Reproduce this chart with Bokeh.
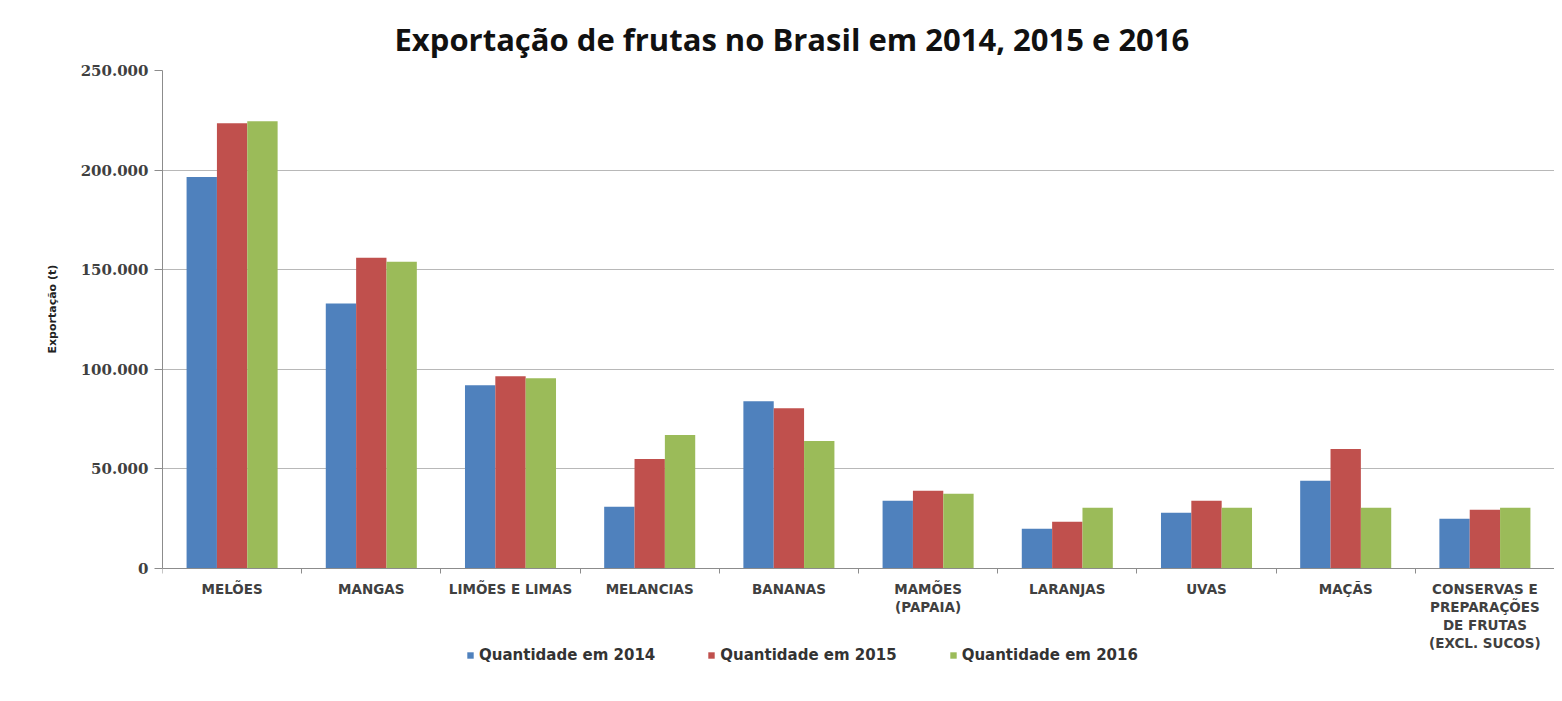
from bokeh.plotting import figure
from bokeh.models import (ColumnDataSource, Range1d, FixedTicker, Legend, LegendItem, Title)
from bokeh.transform import dodge
from bokeh.embed import file_html
from bokeh.resources import INLINE

categories = ["MELÕES", "MANGAS", "LIMÕES E LIMAS", "MELANCIAS", "BANANAS",
              "MAMÕES\n(PAPAIA)", "LARANJAS", "UVAS", "MAÇÃS",
              "CONSERVAS E\nPREPARAÇÕES\nDE FRUTAS\n(EXCL. SUCOS)"]
q2014 = [196500, 133000, 92000, 31000, 84000, 34000, 20000, 28000, 44000, 25000]
q2015 = [223500, 156000, 96500, 55000, 80500, 39000, 23500, 34000, 60000, 29500]
q2016 = [224500, 154000, 95500, 67000, 64000, 37500, 30500, 30500, 30500, 30500]
series_names = ["Quantidade em 2014", "Quantidade em 2015", "Quantidade em 2016"]
colors = ["#4F81BD", "#C0504D", "#9BBB59"]
y_ticks = [0, 50000, 100000, 150000, 200000, 250000]
y_max = 250000
y_min = -61245  # extra room under the axis for the category labels and legend

xs = [i + 0.5 for i in range(len(categories))]
src = ColumnDataSource(dict(x=xs, q2014=q2014, q2015=q2015, q2016=q2016))

p = figure(frame_width=1392, frame_height=620, output_backend="svg", toolbar_location=None,
           x_range=Range1d(0, len(categories)), y_range=Range1d(y_min, y_max),
           min_border_left=162, min_border_right=0, min_border_top=70, min_border_bottom=0)
p.outline_line_color = None
p.background_fill_color = "white"

bw = 0.218
renderers = []
for k, (col, c) in enumerate(zip(["q2014", "q2015", "q2016"], colors)):
    r = p.vbar(x=dodge("x", (k - 1) * bw, range=p.x_range), top=col, width=bw,
               source=src, fill_color=c, line_color=None)
    renderers.append(r)

# title
t = Title(text="Exportação de frutas no Brasil em 2014, 2015 e 2016", align="left",
          offset=232, text_font="Open Sans", text_font_size="31px",
          text_font_style="bold", text_color="#111111", standoff=22)
p.title = t

# y axis
p.yaxis.ticker = FixedTicker(ticks=y_ticks)
p.yaxis.bounds = (0, y_max)
p.yaxis.major_label_overrides = {v: (f"{v:,}".replace(",", ".")) for v in y_ticks}
p.yaxis.minor_tick_line_color = None
p.yaxis.major_tick_out = 8
p.yaxis.major_tick_in = 0
p.yaxis.axis_line_color = "#8c8c8c"
p.yaxis.major_tick_line_color = "#8c8c8c"
p.yaxis.major_label_text_font = "DejaVu Serif"
p.yaxis.major_label_text_font_size = "15px"
p.yaxis.major_label_text_font_style = "bold"
p.yaxis.major_label_text_color = "#404040"
p.yaxis.major_label_standoff = 6

# y axis title, placed level with the 0..250.000 part of the axis
ytitle = Title(text="Exportação (t)", align="left", offset=337,
               text_font="DejaVu Sans", text_font_size="11px", text_font_style="bold",
               text_color="#222222", standoff=37)
p.add_layout(ytitle, "left")

# x axis (drawn at y = 0 inside the frame)
p.xaxis.fixed_location = 0
p.xaxis.ticker = FixedTicker(ticks=xs, minor_ticks=list(range(len(categories) + 1)))
p.xaxis.major_label_overrides = {x: c for x, c in zip(xs, categories)}
p.xaxis.major_tick_out = 0
p.xaxis.major_tick_in = 0
p.xaxis.minor_tick_out = 5
p.xaxis.minor_tick_in = 0
p.xaxis.minor_tick_line_color = "#8c8c8c"
p.xaxis.axis_line_color = "#8c8c8c"
p.xaxis.major_label_text_font = "DejaVu Sans"
p.xaxis.major_label_text_font_size = "13.5px"
p.xaxis.major_label_text_font_style = "bold"
p.xaxis.major_label_text_color = "#404040"
p.xaxis.major_label_standoff = 8
p.xaxis.major_label_text_line_height = 1.12

p.xgrid.grid_line_color = None
p.ygrid.ticker = FixedTicker(ticks=y_ticks)
p.ygrid.grid_line_color = "#b8b8b8"
p.ygrid.grid_line_width = 1

legend = Legend(items=[LegendItem(label=n, renderers=[r]) for n, r in zip(series_names, renderers)],
                orientation="horizontal", location=(304, 26),
                label_text_font="DejaVu Sans", label_text_font_size="15px",
                label_text_font_style="bold",
                label_text_color="#333333", glyph_width=8, glyph_height=8,
                spacing=52, label_standoff=5, border_line_color=None,
                background_fill_alpha=0, padding=0, margin=0)
p.add_layout(legend)

open("out.html", "w").write(file_html(p, INLINE))
